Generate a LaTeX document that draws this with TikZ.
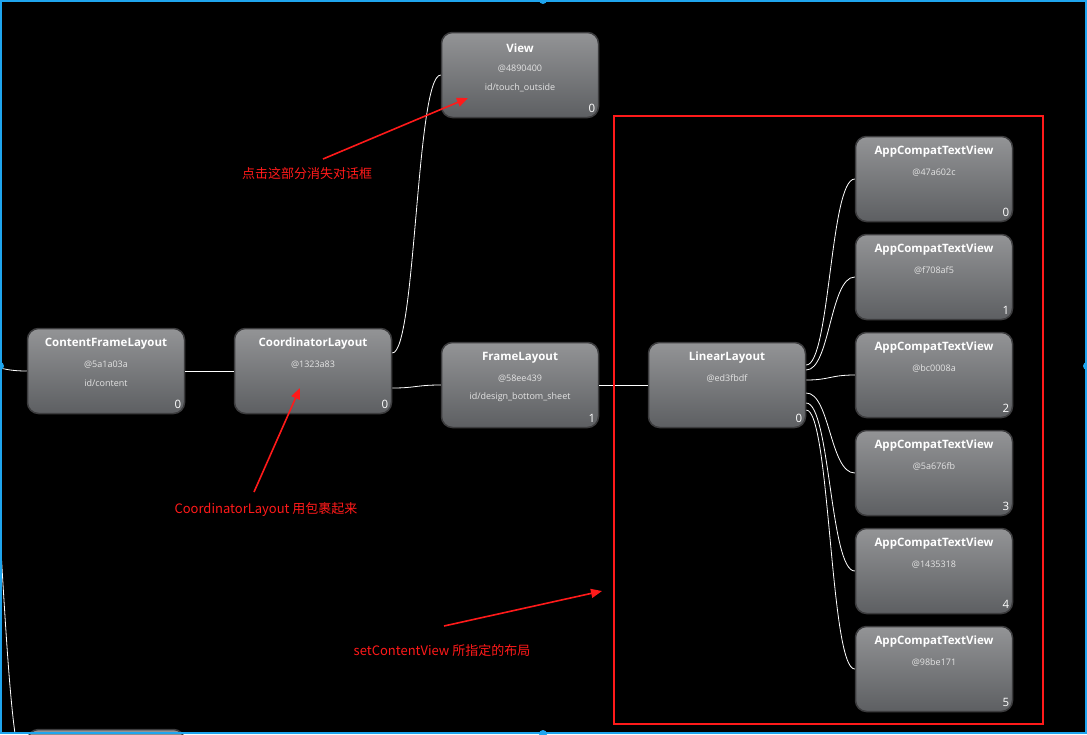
\documentclass[tikz,border=0pt]{standalone}
\usepackage{fontspec}
\setmainfont{Open Sans}
\newfontfamily\cjk{Noto Sans CJK SC}
\usetikzlibrary{arrows.meta,calc}
\definecolor{selblue}{HTML}{1FA5EE}
\definecolor{boxtop}{HTML}{939496}
\definecolor{boxbot}{HTML}{5D5F62}
\definecolor{boxedge}{HTML}{3C3C3E}
\definecolor{subtext}{HTML}{E4E4E4}
\definecolor{annred}{HTML}{FF1A1A}
\tikzset{
 vnode/.style={draw=boxedge, line width=1.5pt, top color=boxtop, bottom color=boxbot, rounded corners=11pt, minimum width=157pt, minimum height=85pt, inner sep=0pt},
 vtitle/.style={text=white, font=\bfseries\fontsize{11.5}{13}\selectfont, inner sep=0pt},
 vsub/.style={text=subtext, font=\fontsize{9}{10}\selectfont, inner sep=0pt},
 vnum/.style={text=white, font=\fontsize{11.5}{13}\selectfont, inner sep=0pt},
 conn/.style={draw=white, line width=0.8pt},
 ann/.style={draw=annred, line width=1.6pt, -{Triangle[length=11pt,width=9pt]}},
 anntext/.style={text=annred, font=\cjk\fontsize{13}{15}\selectfont, inner sep=0pt},
}
\newcommand\hvnode[7]{%
 \node[vnode] (#1) at (#2,#3) {};
 \node[vtitle] (#1-t) at (#2,#3-27) {#4};
 \node[vsub] (#1-h) at (#2,#3-6.5) {#5};
 \if\relax\detokenize{#6}\relax\else\node[vsub] (#1-i) at (#2,#3+12.5) {#6};\fi
 \node[vnum] (#1-n) at (#2+72,#3+33) {#7};
}
\begin{document}
\begin{tikzpicture}[x=1pt,y=-1pt]
\useasboundingbox (0,0) rectangle (1087,734);
\clip (0,0) rectangle (1087,734);
\fill[black] (0,0) rectangle (1087,734);

% nodes
\hvnode{cf}{106}{371}{ContentFrameLayout}{@5a1a03a}{id/content}{0}
\hvnode{co}{313}{371}{CoordinatorLayout}{@1323a83}{}{0}
\hvnode{view}{520}{75}{View}{@4890400}{id/touch\_outside}{0}
\hvnode{fl}{520}{385}{FrameLayout}{@58ee439}{id/design\_bottom\_sheet}{1}
\hvnode{ll}{727}{385}{LinearLayout}{@ed3fbdf}{}{0}
\hvnode{a0}{934}{179}{AppCompatTextView}{@47a602c}{}{0}
\hvnode{a1}{934}{277}{AppCompatTextView}{@f708af5}{}{1}
\hvnode{a2}{934}{375}{AppCompatTextView}{@bc0008a}{}{2}
\hvnode{a3}{934}{473}{AppCompatTextView}{@5a676fb}{}{3}
\hvnode{a4}{934}{571}{AppCompatTextView}{@1435318}{}{4}
\hvnode{a5}{934}{669}{AppCompatTextView}{@98be171}{}{5}
\node[vnode] (bot) at (106,772) {};

% connectors
\coordinate (root) at (-22,366);
\draw[conn] (root) .. controls (2,366) and (2,371) .. (cf.west);
\draw[conn] (root) .. controls (2,366) and (2,772) .. (bot.west);
\draw[conn] (cf.east) -- (co.west);
\draw[conn] ([yshift=18pt]co.east) .. controls (416,353) and (416,75) .. (view.west);
\draw[conn] ([yshift=-17pt]co.east) .. controls (416,388) and (416,385) .. (fl.west);
\draw[conn] (fl.east) -- (ll.west);
\draw[conn] ([yshift=20pt]ll.east) .. controls (830,365) and (830,179) .. (a0.west);
\draw[conn] ([yshift=15pt]ll.east) .. controls (830,370) and (830,277) .. (a1.west);
\draw[conn] ([yshift=5pt]ll.east) .. controls (830,380) and (830,375) .. (a2.west);
\draw[conn] ([yshift=-8pt]ll.east) .. controls (830,393) and (830,473) .. (a3.west);
\draw[conn] ([yshift=-18pt]ll.east) .. controls (830,403) and (830,571) .. (a4.west);
\draw[conn] ([yshift=-25pt]ll.east) .. controls (830,410) and (830,669) .. (a5.west);

% annotations
\draw[annred, line width=1.5pt] (614,116) rectangle (1043,724);
\coordinate (s1) at (323,159); \coordinate (e1) at (468,98);
\draw[ann] (s1) -- (e1);
\node[anntext] (t1) at (307,174) {点击这部分消失对话框};
\coordinate (s2) at (254,492); \coordinate (e2) at (300,388);
\draw[ann] (s2) -- (e2);
\node[anntext] (t2) at (266,510) {CoordinatorLayout 用包裹起来};
\coordinate (s3) at (444,626); \coordinate (e3) at (602,591);
\draw[ann] (s3) -- (e3);
\node[anntext] (t3) at (442,651) {setContentView 所指定的布局};

% selection frame
\draw[selblue, line width=2pt] (1,1) rectangle (1086,733);
\fill[selblue] (0,366) circle (4pt);
\fill[selblue] (1087,366) circle (4pt);
\fill[selblue] (543,0) circle (4pt);
\fill[selblue] (543,734) circle (4pt);
\end{tikzpicture}
\end{document}
